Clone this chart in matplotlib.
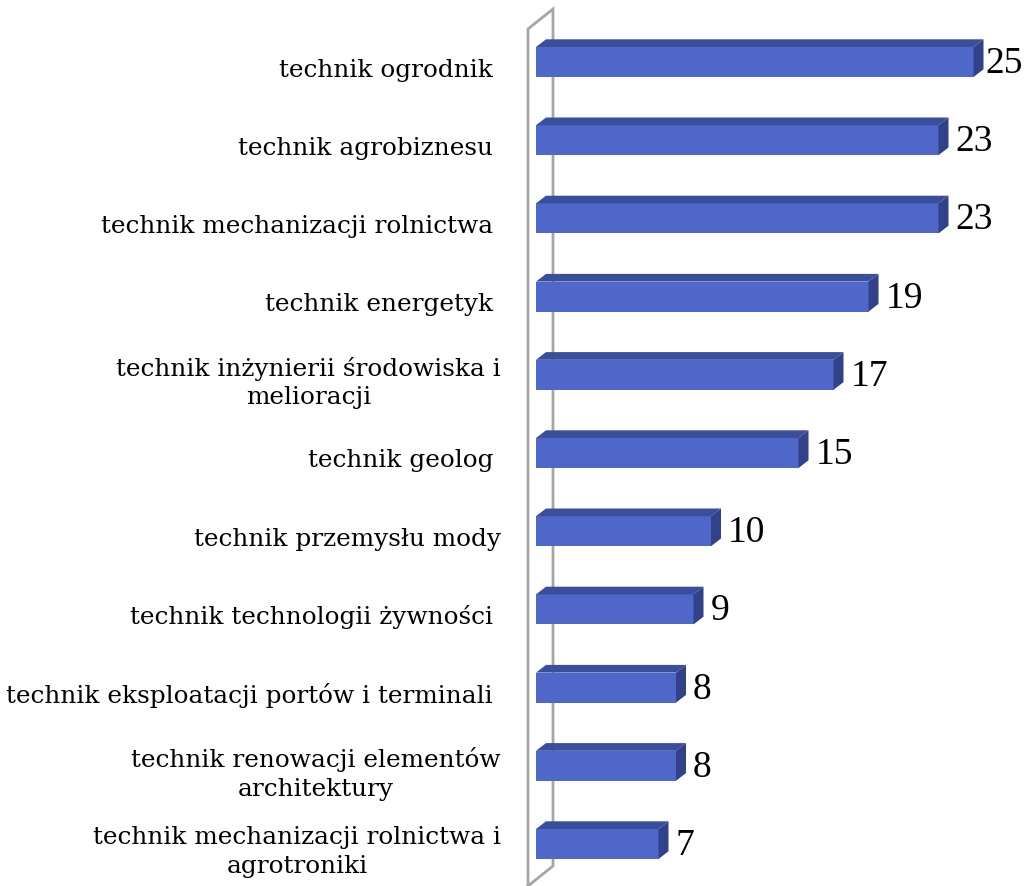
import numpy as np
from matplotlib import pyplot as plt
from matplotlib.patches import Polygon

categories = ['technik ogrodnik ',
              'technik agrobiznesu ',
              'technik mechanizacji rolnictwa ',
              'technik energetyk ',
              'technik inżynierii środowiska i\nmelioracji',
              'technik geolog ',
              'technik przemysłu mody',
              'technik technologii żywności ',
              'technik eksploatacji portów i terminali ',
              'technik renowacji elementów\narchitektury',
              'technik mechanizacji rolnictwa i\nagrotroniki']
values = [25, 23, 23, 19, 17, 15, 10, 9, 8, 8, 7]

W, H = 1026, 887
PX_X = 17.5      # pixels per unit along x
X0 = 536         # pixel of zero
PX_Y = 78.2      # pixels between bars
Y0 = 63          # pixel centre of first bar

fig = plt.figure(figsize=(W/100, H/100), dpi=100)
ax = fig.add_axes([0, 0, 1, 1])
ax.set_xlim(-X0/PX_X, (W-X0)/PX_X)
ax.set_ylim((H-Y0)/PX_Y, -Y0/PX_Y)
ax.axis('off')

front = '#4e67c8'
top_c = '#3a4f9c'
side_c = '#31428a'

dx = 10/PX_X   # depth of bars
dy = 7.7/PX_Y
h = 30/PX_Y

# back wall
wx, wy = 25/PX_X, 20/PX_Y
x_front = -8/PX_X
y_top = (30-Y0)/PX_Y
y_bot = (H-Y0)/PX_Y
wall = np.array([[x_front, y_bot], [x_front, y_top], [x_front+wx, y_top-wy],
                 [x_front+wx, y_bot-wy], [x_front, y_bot]])
ax.plot(wall[:, 0], wall[:, 1], color='#a6a6a6', lw=2, solid_joinstyle='miter', zorder=1)

# labels must not run past the right edge
x_max = (985 - X0)/PX_X

y = np.arange(len(values))
ax.barh(y, values, height=h, color=front, zorder=3)
for yi, v in zip(y, values):
    t = yi - h/2
    b = yi + h/2
    ax.add_patch(Polygon([[0, t], [v, t], [v+dx, t-dy], [dx, t-dy]],
                         closed=True, color=top_c, lw=0, zorder=3))
    ax.add_patch(Polygon([[v, t], [v+dx, t-dy], [v+dx, b-dy], [v, b]],
                         closed=True, color=side_c, lw=0, zorder=3))
    ax.text(min(v+dx+7/PX_X, x_max), yi+0.01, str(v), fontsize=27,
            family='Liberation Serif', va='center', ha='left')

for yi, lab in zip(y, categories):
    ax.text(-35/PX_X, yi+7/PX_Y, lab, fontsize=17.8, family='DejaVu Serif',
            va='center', ha='right', multialignment='center', linespacing=1.3)

fig.savefig('out.png', dpi=100)
